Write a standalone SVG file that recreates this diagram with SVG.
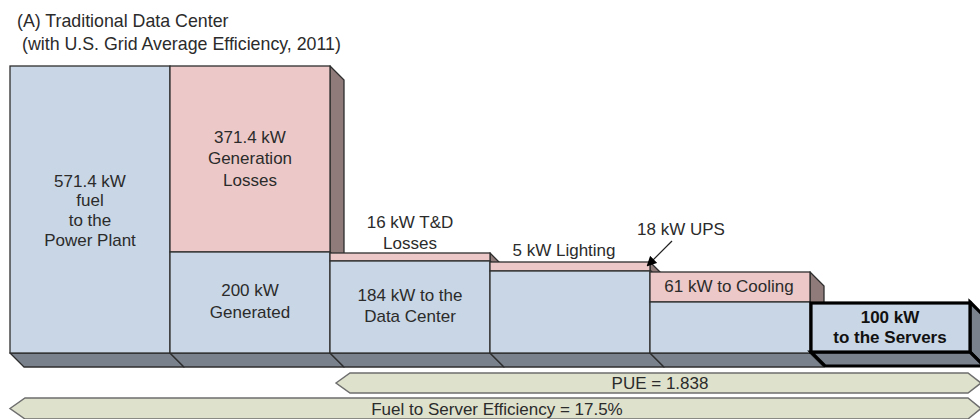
<svg xmlns="http://www.w3.org/2000/svg" width="980" height="419" viewBox="0 0 980 419">
<style>
text{font-family:"Liberation Sans",Arial,sans-serif;font-size:17px;fill:#2b2b2b;text-anchor:middle}
.t{text-anchor:start;font-size:17.8px}
.b{font-weight:bold;fill:#111}
.blue{fill:#c8d6e5;stroke:#2e2e2e;stroke-width:1.3}
.pink{fill:#ecc9c8;stroke:#2e2e2e;stroke-width:1.3}
.side{fill:#8f7b7a;stroke:#2e2e2e;stroke-width:1.3;stroke-linejoin:round}
.floor{fill:#78818c;stroke:#2e2e2e;stroke-width:1.3;stroke-linejoin:round}
.heavy{stroke:#000;stroke-width:3.2;stroke-linejoin:miter}
.band{fill:#dee1cb;stroke:#6e6e6e;stroke-width:1.5}
</style>
<defs>
<marker id="ah" markerWidth="10" markerHeight="10" refX="8" refY="5" orient="auto" markerUnits="userSpaceOnUse">
<path d="M0,0 L10,5 L0,10 z" fill="#000"/>
</marker>
</defs>
<g id="title">
<text class="t" x="17" y="27">(A) Traditional Data Center</text>
<text class="t" x="22" y="50">(with U.S. Grid Average Efficiency, 2011)</text>
</g>
<g id="col1">
<polygon class="floor" points="10,353 170,353 184,367 24,367"/>
<rect class="blue" x="10" y="66" width="160" height="287"/>
<text x="90" y="187">571.4 kW</text>
<text x="90" y="206">fuel</text>
<text x="90" y="226">to the</text>
<text x="90" y="246">Power Plant</text>
</g>
<g id="col2">
<polygon class="side" points="330,66 344,80 344,266 330,252"/>
<polygon class="floor" points="170,353 330,353 344,367 184,367"/>
<rect class="pink" x="170" y="66" width="160" height="186"/>
<rect class="blue" x="170" y="252" width="160" height="101"/>
<text x="250" y="143">371.4 kW</text>
<text x="250" y="164">Generation</text>
<text x="250" y="186">Losses</text>
<text x="250" y="296">200 kW</text>
<text x="250" y="318">Generated</text>
</g>
<g id="col3">
<polygon class="side" points="490,253 504,267 504,275 490,261"/>
<polygon class="floor" points="330,353 490,353 504,367 344,367"/>
<rect class="pink" x="330" y="253" width="160" height="8"/>
<rect class="blue" x="330" y="261" width="160" height="92"/>
<text x="410" y="301">184 kW to the</text>
<text x="410" y="322">Data Center</text>
<text x="410" y="228">16 kW T&amp;D</text>
<text x="410" y="249">Losses</text>
</g>
<g id="col4">
<polygon class="side" points="650,262 664,276 664,284 650,270"/>
<polygon class="floor" points="490,353 650,353 664,367 504,367"/>
<rect class="pink" x="490" y="262" width="160" height="9"/>
<rect class="blue" x="490" y="271" width="160" height="82"/>
<text x="564" y="256">5 kW Lighting</text>
</g>
<g id="col5">
<polygon class="side" points="810,272 824,286 824,316 810,302"/>
<polygon class="floor" points="650,353 810,353 824,367 664,367"/>
<rect class="pink" x="650" y="272" width="160" height="30"/>
<rect class="blue" x="650" y="302" width="160" height="51"/>
<text x="729" y="292">61 kW to Cooling</text>
</g>
<g id="col6">
<polygon class="floor heavy" points="970,302 984,316 984,366 970,352"/>
<polygon class="floor heavy" points="811,352 970,352 984,366 825,366"/>
<rect class="blue heavy" x="811" y="303" width="159" height="49"/>
<text class="b" x="890" y="323">100 kW</text>
<text class="b" x="890" y="343">to the Servers</text>
</g>
<g id="ups-label">
<text x="681" y="235">18 kW UPS</text>
</g>
<g id="connectors">
<line x1="672" y1="241" x2="648" y2="265" stroke="#222" stroke-width="1.2" marker-end="url(#ah)"/>
</g>
<g id="pue">
<polygon class="band" points="336,383 350,373 968,373 981,383 968,393 350,393"/>
<text x="660" y="389">PUE = 1.838</text>
</g>
<g id="fuel-eff">
<polygon class="band" points="10,408.5 25,398 968,398 981,408.5 968,419 25,419"/>
<text x="497" y="415">Fuel to Server Efficiency = 17.5%</text>
</g>
</svg>
